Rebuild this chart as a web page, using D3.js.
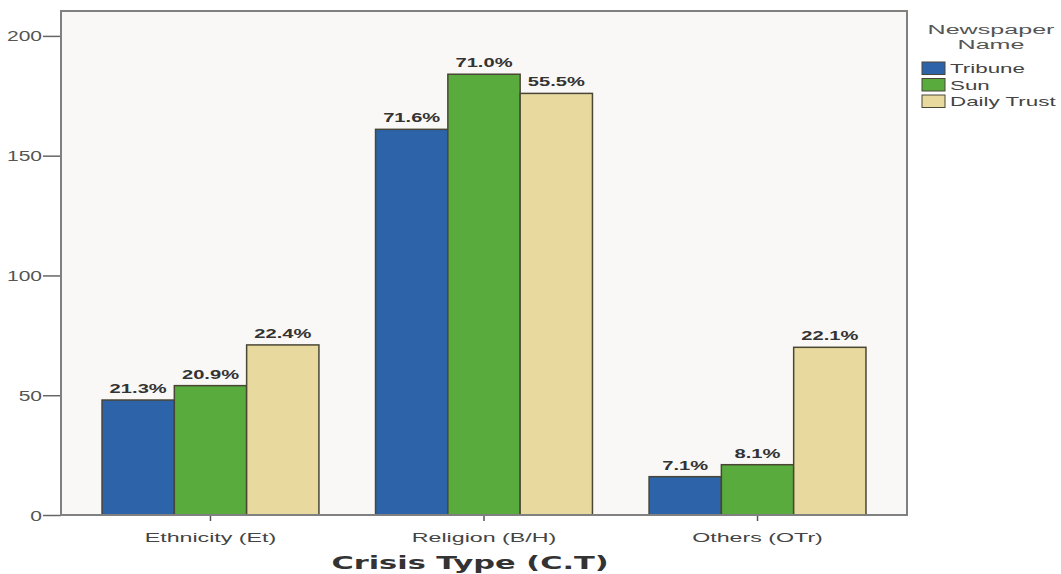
<!DOCTYPE html>
<html>
<head>
<meta charset="utf-8">
<script src="https://cdn.jsdelivr.net/npm/d3@7"></script>
<style>
  html, body { margin: 0; padding: 0; background: #ffffff; }
  svg { display: block; }
</style>
</head>
<body>
<svg id="chart" width="1061" height="574"></svg>
<script>
// Crisis type counts per newspaper, with the within-paper share printed above each bar
const categories = ["Ethnicity (Et)", "Religion (B/H)", "Others (OTr)"];
const newspapers = ["Tribune", "Sun", "Daily Trust"];
const tribune = [48, 161, 16];
const sun = [54, 184, 21];
const dailyTrust = [71, 176, 70];
const tribunePct = ["21.3%", "71.6%", "7.1%"];
const sunPct = ["20.9%", "71.0%", "8.1%"];
const dailyTrustPct = ["22.4%", "55.5%", "22.1%"];
const yTicks = [0, 50, 100, 150, 200];
const colors = ["#2c63a9", "#5aab3d", "#e8d99e"];

const seriesValues = [tribune, sun, dailyTrust];
const seriesPct = [tribunePct, sunPct, dailyTrustPct];

const svg = d3.select("#chart");
const plot = { left: 61, right: 907, top: 11, bottom: 515 };
const sans = "'Liberation Sans', Arial, Helvetica, sans-serif";

// text is drawn horizontally widened, as in the original export
function stretched(sel, sx) {
  sel.each(function () {
    const t = d3.select(this);
    const x = +t.attr("data-x");
    const y = +t.attr("data-y");
    t.attr("x", 0).attr("y", 0)
     .attr("transform", `translate(${x},${y}) scale(${sx},1)`);
  });
  return sel;
}

const x0 = d3.scaleBand()
  .domain(categories)
  .range([plot.left, plot.right])
  .paddingInner(0.207)
  .paddingOuter(0.15);

const x1 = d3.scaleBand()
  .domain(newspapers)
  .range([0, x0.bandwidth()]);

const y = d3.scaleLinear()
  .domain([0, 210.4])
  .range([plot.bottom, plot.top]);

// plot background
svg.append("rect")
  .attr("x", plot.left).attr("y", plot.top)
  .attr("width", plot.right - plot.left)
  .attr("height", plot.bottom - plot.top)
  .attr("fill", "#f9f8f6");

// bars
const groups = svg.append("g").selectAll("g")
  .data(categories)
  .join("g")
  .attr("transform", d => `translate(${x0(d)},0)`);

groups.selectAll("rect")
  .data((c, ci) => newspapers.map((n, si) => ({ n, si, v: seriesValues[si][ci] })))
  .join("rect")
  .attr("x", d => x1(d.n))
  .attr("y", d => y(d.v))
  .attr("width", x1.bandwidth())
  .attr("height", d => y(0) - y(d.v))
  .attr("fill", d => colors[d.si])
  .attr("stroke", "#4a4636")
  .attr("stroke-width", 1.5);

// percentage labels
groups.selectAll("text")
  .data((c, ci) => newspapers.map((n, si) => ({ n, si, v: seriesValues[si][ci], p: seriesPct[si][ci] })))
  .join("text")
  .attr("data-x", d => x1(d.n) + x1.bandwidth() / 2)
  .attr("data-y", d => y(d.v) - 7)
  .attr("text-anchor", "middle")
  .attr("font-family", sans)
  .attr("font-weight", "bold")
  .attr("font-size", 12)
  .attr("fill", "#333")
  .text(d => d.p)
  .call(stretched, 1.68);

// y axis
const yAxis = svg.append("g")
  .attr("transform", `translate(${plot.left},0)`)
  .call(d3.axisLeft(y).tickValues(yTicks).tickSize(18).tickPadding(1).tickFormat(d3.format("d")));
yAxis.select(".domain").remove();
yAxis.selectAll(".tick line").attr("stroke", "#666").attr("stroke-width", 1.5);
yAxis.selectAll(".tick text")
  .attr("font-family", sans)
  .attr("font-size", 14)
  .attr("fill", "#555")
  .each(function () {
    const t = d3.select(this);
    const sx = 1.5;
    t.attr("x", -19 / sx).attr("dy", "0.36em").attr("transform", `scale(${sx},1)`);
  });

// x axis
const xAxis = svg.append("g")
  .attr("transform", `translate(0,${plot.bottom})`)
  .call(d3.axisBottom(x0).tickSize(6).tickPadding(0));
xAxis.select(".domain").remove();
xAxis.selectAll(".tick line").attr("stroke", "#555").attr("stroke-width", 1.5);
xAxis.selectAll(".tick text")
  .attr("font-family", sans)
  .attr("font-size", 13.5)
  .attr("fill", "#444")
  .attr("y", 27).attr("dy", 0)
  .attr("transform", "scale(1.72,1)");

// plot frame
svg.append("rect")
  .attr("x", plot.left).attr("y", plot.top)
  .attr("width", plot.right - plot.left)
  .attr("height", plot.bottom - plot.top)
  .attr("fill", "none")
  .attr("stroke", "#808080")
  .attr("stroke-width", 2);

// axis title
svg.append("text")
  .attr("data-x", 470)
  .attr("data-y", 569)
  .attr("text-anchor", "middle")
  .attr("font-family", "'DejaVu Sans', Verdana, sans-serif")
  .attr("font-weight", "bold")
  .attr("font-size", 17)
  .attr("fill", "#333")
  .text("Crisis Type (C.T)")
  .call(stretched, 1.79);

// legend
const legend = svg.append("g");
legend.selectAll("text.title")
  .data(["Newspaper", "Name"])
  .join("text")
  .attr("class", "title")
  .attr("data-x", 991)
  .attr("data-y", (d, i) => 34 + i * 15)
  .attr("text-anchor", "middle")
  .attr("font-family", sans)
  .attr("font-size", 13.5)
  .attr("fill", "#555")
  .text(d => d)
  .call(stretched, 1.86);

const items = legend.selectAll("g.item")
  .data(newspapers)
  .join("g")
  .attr("class", "item")
  .attr("transform", (d, i) => `translate(922,${62 + i * 16.5})`);
items.append("rect")
  .attr("width", 23).attr("height", 12.5)
  .attr("fill", (d, i) => colors[i])
  .attr("stroke", "#4a4636")
  .attr("stroke-width", 1);
items.append("text")
  .attr("data-x", 28)
  .attr("data-y", 11)
  .attr("font-family", sans)
  .attr("font-size", 12.5)
  .attr("fill", "#444")
  .text(d => d)
  .call(stretched, 1.79);
</script>
</body>
</html>
